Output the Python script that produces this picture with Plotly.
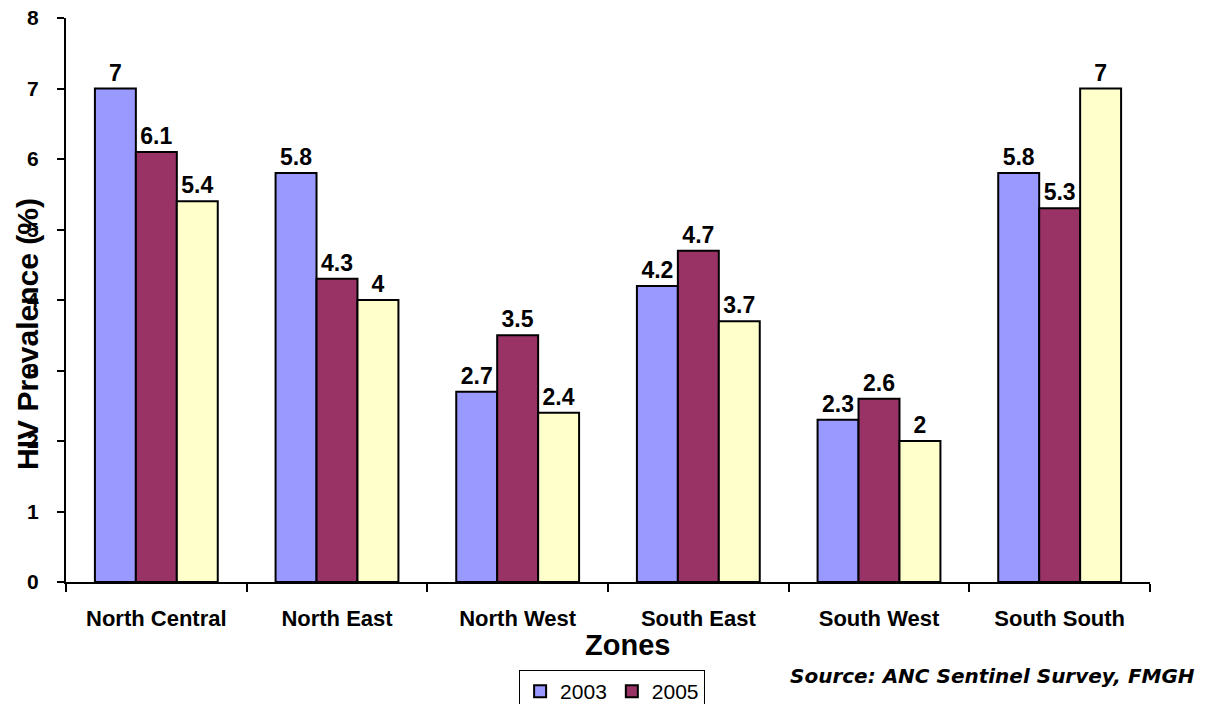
import plotly.graph_objects as go

zones = ["North Central", "North East", "North West", "South East", "South West", "South South"]
series_names = ["2003", "2005", "2008"]
v2003 = [7, 5.8, 2.7, 4.2, 2.3, 5.8]
v2005 = [6.1, 4.3, 3.5, 4.7, 2.6, 5.3]
v2008 = [5.4, 4, 2.4, 3.7, 2, 7]
colors = ["#9999FF", "#993366", "#FFFFCC"]
y_ticks = [0, 1, 2, 3, 4, 5, 6, 7, 8]

FONT = "Arial, 'Liberation Sans', sans-serif"

fig = go.Figure()
for name, vals, col, lg in zip(series_names, [v2003, v2005, v2008], colors, ["legend", "legend", "legend2"]):
    fig.add_trace(go.Bar(
        x=zones, y=vals, name=name,
        marker=dict(color=col, line=dict(color="black", width=2)),
        text=[f"{v:g}" for v in vals], textposition="outside",
        textfont=dict(family=FONT, size=23, color="black", weight="bold"),
        constraintext="none", cliponaxis=False, legend=lg,
    ))

# page has an 8px body margin, so the figure is drawn offset by 8px
fig.update_layout(
    width=1205, height=696,
    paper_bgcolor="white", plot_bgcolor="white",
    margin=dict(l=58, r=63, t=10, b=122, autoexpand=False),
    barmode="group", bargap=0.32, bargroupgap=0,
    font=dict(family=FONT, color="black"),
    showlegend=True,
    legend=dict(orientation="h", x=0.418, y=-0.156, xanchor="left", yanchor="top",
                bordercolor="black", borderwidth=1, bgcolor="white",
                font=dict(family=FONT, size=21, color="black")),
    legend2=dict(orientation="h", x=0.418, y=-0.3, xanchor="left", yanchor="top",
                 bordercolor="black", borderwidth=1, bgcolor="white",
                 font=dict(family=FONT, size=21, color="black")),
    xaxis=dict(showline=True, linecolor="black", linewidth=2, ticks="outside",
               tickson="boundaries", ticklen=8, tickwidth=2, tickcolor="black",
               ticklabelstandoff=16, ticklabeloverflow="allow",
               showgrid=False, tickfont=dict(family=FONT, size=22, color="black", weight="bold")),
    yaxis=dict(range=[0, 8], tickvals=y_ticks, showline=True, linecolor="black", linewidth=2,
               ticks="outside", ticklen=7, tickwidth=2, tickcolor="black", showgrid=False,
               ticklabelstandoff=14, ticklabeloverflow="allow",
               zeroline=False, tickfont=dict(family=FONT, size=21, color="black", weight="bold")),
    annotations=[
        dict(text="HIV Prevalence (%)", xref="paper", yref="paper", x=-0.035, y=0.44,
             xanchor="center", yanchor="middle", textangle=-90, showarrow=False,
             font=dict(family=FONT, size=30, color="black", weight="bold")),
        dict(text="Zones", xref="paper", yref="paper", x=0.518, y=-0.112,
             xanchor="center", yanchor="middle", showarrow=False,
             font=dict(family=FONT, size=29, color="black", weight="bold")),
        dict(text="Source: ANC Sentinel Survey, FMGH", xref="paper", yref="paper",
             x=1.0434, y=-0.166, xanchor="right", yanchor="middle", showarrow=False,
             font=dict(family="'DejaVu Sans', sans-serif", size=20, color="black",
                       weight="bold", style="italic")),
    ],
)

fig.write_html("out.html")
